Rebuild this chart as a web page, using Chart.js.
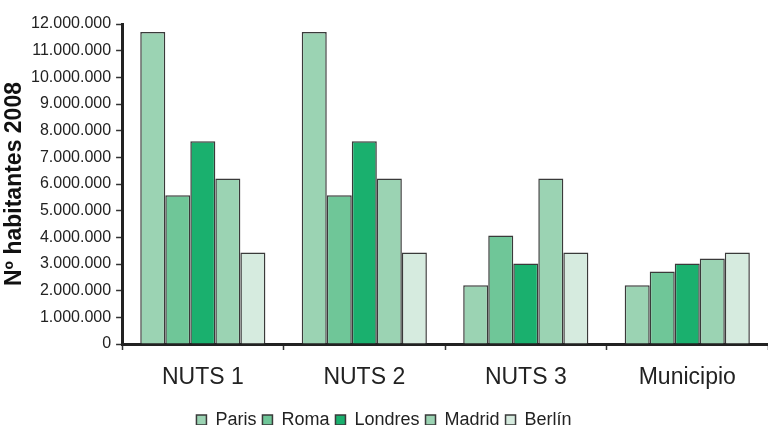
<!DOCTYPE html>
<html>
<head>
<meta charset="utf-8">
<script src="https://cdn.jsdelivr.net/npm/chart.js@4/dist/chart.umd.min.js"></script>
<style>
  html, body { margin: 0; padding: 0; background: #fff; }
  #wrap { width: 768px; height: 425px; }
</style>
</head>
<body>
<div id="wrap"><canvas id="poblacion"></canvas></div>
<script>
const labels = ['NUTS 1', 'NUTS 2', 'NUTS 3', 'Municipio']
const paris = [11700000, 11700000, 2200000, 2200000]
const roma = [5580000, 5580000, 4070000, 2720000]
const londres = [7600000, 7600000, 3020000, 3020000]
const madrid = [6210000, 6210000, 6210000, 3210000]
const berlin = [3430000, 3430000, 3430000, 3430000]
const yTicks = [0, 12000000, 1000000]

const serie = (label, data, color) => ({
  label: label,
  data: data,
  backgroundColor: color,
  borderColor: '#3a3a3a',
  borderWidth: 1.5,
  categoryPercentage: 0.775,
  barPercentage: 1
})

const data = {
  labels: labels,
  datasets: [
    serie('Paris', paris, '#9bd3b3'),
    serie('Roma', roma, '#6fc698'),
    serie('Londres', londres, '#1ab06e'),
    serie('Madrid', madrid, '#9bd3b3'),
    serie('Berlín', berlin, '#d6ebdf')
  ]
}

const config = {
  type: 'bar',
  data: data,
  options: {
    responsive: true,
    maintainAspectRatio: false,
    animation: false,
    layout: { padding: { top: 24, right: 0, bottom: -14, left: 0 } },
    plugins: {
      tooltip: { enabled: false },
      legend: {
        position: 'bottom',
        labels: {
          boxWidth: 10,
          boxHeight: 10,
          padding: 6,
          color: '#222',
          font: { family: 'Liberation Sans, Arial', size: 18 }
        }
      }
    },
    scales: {
      x: {
        offset: true,
        grid: { display: true, offset: true, drawOnChartArea: false, tickLength: 6, color: '#333', tickWidth: 1.5 },
        border: { color: '#222', width: 3 },
        ticks: { color: '#222', padding: 16, font: { family: 'Liberation Sans, Arial', size: 23, lineHeight: 1 } }
      },
      y: {
        min: yTicks[0],
        max: yTicks[1],
        grid: { drawOnChartArea: false, tickLength: 6, color: '#333', tickWidth: 1.5 },
        border: { color: '#222', width: 3 },
        ticks: {
          stepSize: yTicks[2],
          color: '#222',
          padding: 5,
          font: { family: 'Liberation Sans, Arial', size: 16 },
          callback: v => v.toString().replace(/\B(?=(\d{3})+(?!\d))/g, '.')
        },
        title: {
          display: true,
          text: 'Nº habitantes 2008',
          color: '#111',
          padding: { top: 3, bottom: 0 },
          font: { family: 'Liberation Sans, Arial', size: 23, weight: 'bold', lineHeight: 1 }
        }
      }
    }
  }
}

const myChart = new Chart(document.getElementById('poblacion'), config)
</script>
</body>
</html>
